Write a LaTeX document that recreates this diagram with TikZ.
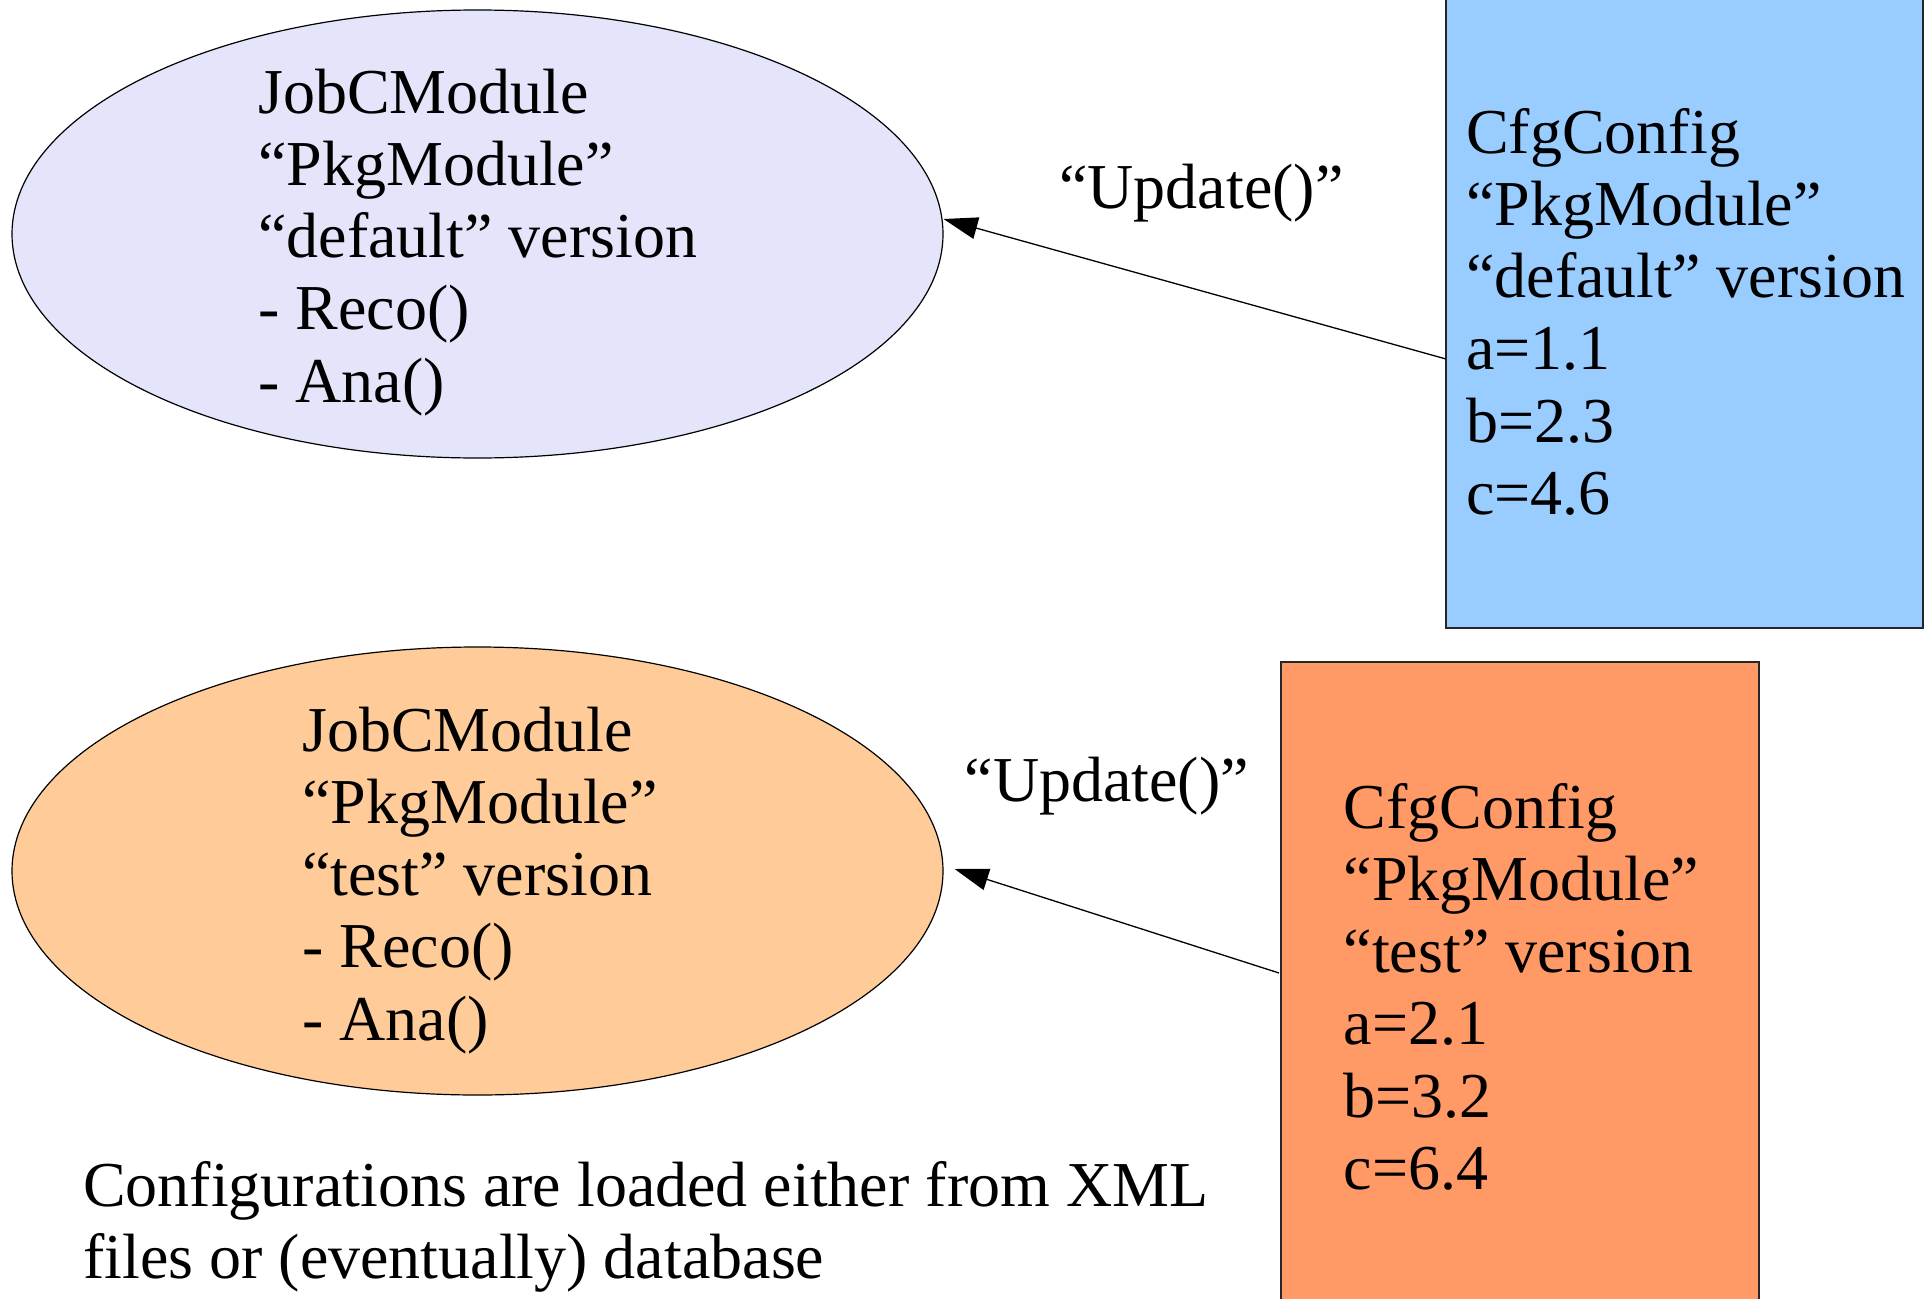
\documentclass[tikz,border=0pt]{standalone}
\usepackage{fontspec}
\setmainfont{Liberation Serif}
\usetikzlibrary{arrows.meta,shapes.geometric}
\definecolor{lav}{RGB}{228,228,250}
\definecolor{peach}{RGB}{255,204,153}
\definecolor{skyb}{RGB}{153,204,255}
\definecolor{orng}{RGB}{255,153,102}
\tikzset{
  big/.style={font=\fontsize{64}{72.2}\selectfont},
  txt/.style={big, inner sep=0pt, align=left, anchor=north west},
  modell/.style={ellipse, draw=black, line width=1.2pt, minimum width=931pt, minimum height=448pt, inner sep=0pt},
  cfgbox/.style={rectangle, draw=black!85, line width=1.6pt, inner sep=0pt, anchor=south west},
  arr/.style={-{Triangle[length=34pt,width=22pt]}, line width=1.3pt, draw=black}
}
\begin{document}
\begin{tikzpicture}[x=1pt,y=-1pt]
\useasboundingbox (0,0) rectangle (1924,1298);
\fill[white] (0,0) rectangle (1924,1298);

% ellipses
\node[modell, fill=lav] (job1) at (477.5,234) {};
\node[modell, fill=peach] (job2) at (477.5,871) {};

% config boxes
\node[cfgbox, fill=skyb, minimum width=477pt, minimum height=660pt] (cfg1) at (1445,629) {};
\node[cfgbox, fill=orng, minimum width=478pt, minimum height=660pt, anchor=north west] (cfg2) at (1280,661) {};

% texts
\node[txt] (job1t) at (258,62.5) {\strut JobCModule\\“PkgModule”\\“default” version\\- Reco()\\- Ana()};
\node[txt] (job2t) at (302,700.5) {\strut JobCModule\\“PkgModule”\\“test” version\\- Reco()\\- Ana()};
\node[txt] (cfg1t) at (1466,102.5) {\strut CfgConfig\\“PkgModule”\\“default” version\\a=1.1\\b=2.3\\c=4.6};
\node[txt] (cfg2t) at (1343.5,777.5) {\strut CfgConfig\\“PkgModule”\\“test” version\\a=2.1\\b=3.2\\c=6.4};
\node[txt] (note) at (83,1155.5) {\strut Configurations are loaded either from XML\\files or (eventually) database};

\node[big, inner sep=0pt, anchor=base west] (upd1) at (1059,208.6) {“Update()”};
\node[big, inner sep=0pt, anchor=base west] (upd2) at (964.5,801) {“Update()”};

% connectors
\coordinate (s1) at (1446,359);
\coordinate (s2) at (1279,973);
\draw[arr] (s1) -- ([xshift=0pt,yshift=15pt]job1.east);
\draw[arr] (s2) -- ([xshift=11pt,yshift=2pt]job2.east);
\end{tikzpicture}
\end{document}
